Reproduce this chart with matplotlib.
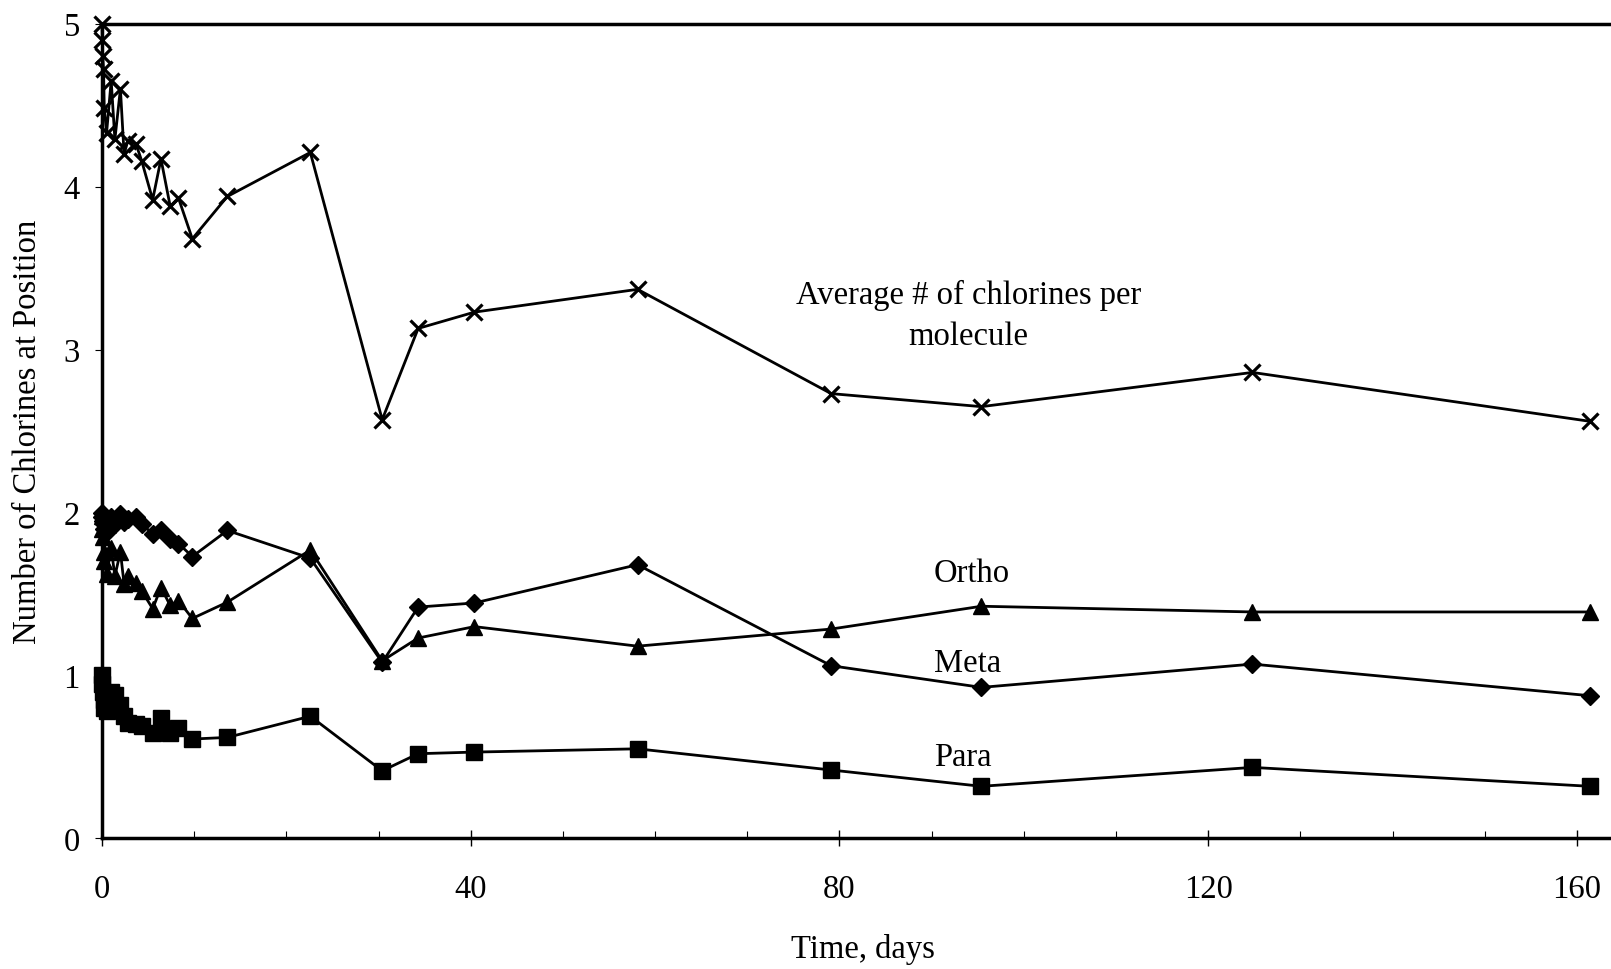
import matplotlib.pyplot as plt
import numpy as np

plt.rcParams['font.family'] = ['Liberation Serif', 'DejaVu Serif']

# sampling times (days) shared by all series
days = [0, 0.04, 0.08, 0.17, 0.25, 0.5, 1, 1.4, 2, 2.4, 2.8, 3.7, 4.3, 5.5,
        6.4, 7.4, 8.3, 9.8, 13.6, 22.6, 30.4, 34.3, 40.4, 58.1, 79.1, 95.4,
        124.8, 161.4]

# average number of chlorines per molecule
avg_cl = [5.0, 4.9, 4.8, 4.72, 4.48, 4.33, 4.65, 4.29, 4.60, 4.20, 4.28, 4.26,
          4.16, 3.92, 4.17, 3.88, 3.93, 3.68, 3.94, 4.21, 2.57, 3.13, 3.23, 3.37,
          2.73, 2.65, 2.86, 2.56]

# chlorines at ortho positions
ortho = [1.98, 1.9, 1.85, 1.76, 1.7, 1.62, 1.78, 1.61, 1.76, 1.56, 1.61, 1.57,
         1.52, 1.41, 1.54, 1.43, 1.46, 1.35, 1.45, 1.77, 1.09, 1.23, 1.30, 1.18,
         1.285, 1.425, 1.39, 1.39]

# chlorines at meta positions
meta = [2.0, 1.97, 1.95, 1.93, 1.9, 1.88, 1.97, 1.93, 1.99, 1.94, 1.96, 1.97,
        1.93, 1.87, 1.89, 1.84, 1.81, 1.73, 1.89, 1.72, 1.08, 1.42, 1.445, 1.68,
        1.06, 0.927, 1.07, 0.876]

# chlorines at para position
para = [1.0, 0.95, 0.9, 0.85, 0.8, 0.78, 0.9, 0.88, 0.82, 0.75, 0.71, 0.70,
        0.69, 0.65, 0.74, 0.65, 0.68, 0.61, 0.62, 0.75, 0.415, 0.52, 0.53, 0.55,
        0.42, 0.32, 0.436, 0.32]

fig = plt.figure(figsize=(16.11, 9.70), dpi=100)
ax = fig.add_axes([0.0633, 0.1346, 0.9367, 0.8399])

ax.plot(days, avg_cl, color='black', lw=2, marker='x', ms=12, mew=2.3, clip_on=False)
ax.plot(days, meta, color='black', lw=2, marker='D', ms=9, clip_on=False)
ax.plot(days, ortho, color='black', lw=2, marker='^', ms=12, clip_on=False)
ax.plot(days, para, color='black', lw=2, marker='s', ms=11.5, clip_on=False)

ax.text(94.0, 3.21, "Average # of chlorines per\nmolecule", fontsize=23.5,
        ha='center', va='center', linespacing=1.45)
ax.text(94.4, 1.63, "Ortho", fontsize=23.5, ha='center', va='center')
ax.text(93.9, 1.08, "Meta", fontsize=23.5, ha='center', va='center')
ax.text(93.4, 0.50, "Para", fontsize=23.5, ha='center', va='center')

ax.set_xlim(0, 163.7)
ax.set_ylim(0, 5)
ax.set_xticks(np.arange(0, 161, 40))
ax.set_xticks(np.arange(0, 161, 10), minor=True)
ax.set_yticks(np.arange(0, 6, 1))

ax.tick_params(axis='x', which='major', direction='inout', length=12, width=1,
               pad=19, labelsize=23.5)
ax.tick_params(axis='x', which='minor', direction='in', length=5, width=0.8)
ax.tick_params(axis='y', which='major', direction='out', length=5, width=0.8,
               pad=11, labelsize=23.5)

for side in ['left', 'bottom', 'top']:
    ax.spines[side].set_linewidth(2.5)
ax.spines['right'].set_visible(False)

fig.text(28 / 1611, 1 - 432 / 970, "Number of Chlorines at Position", fontsize=23.5,
         rotation=90, ha='center', va='center')
fig.text(863 / 1611, 1 - 950 / 970, "Time, days", fontsize=23.5,
         ha='center', va='center')

fig.savefig('out.png', dpi=100)
